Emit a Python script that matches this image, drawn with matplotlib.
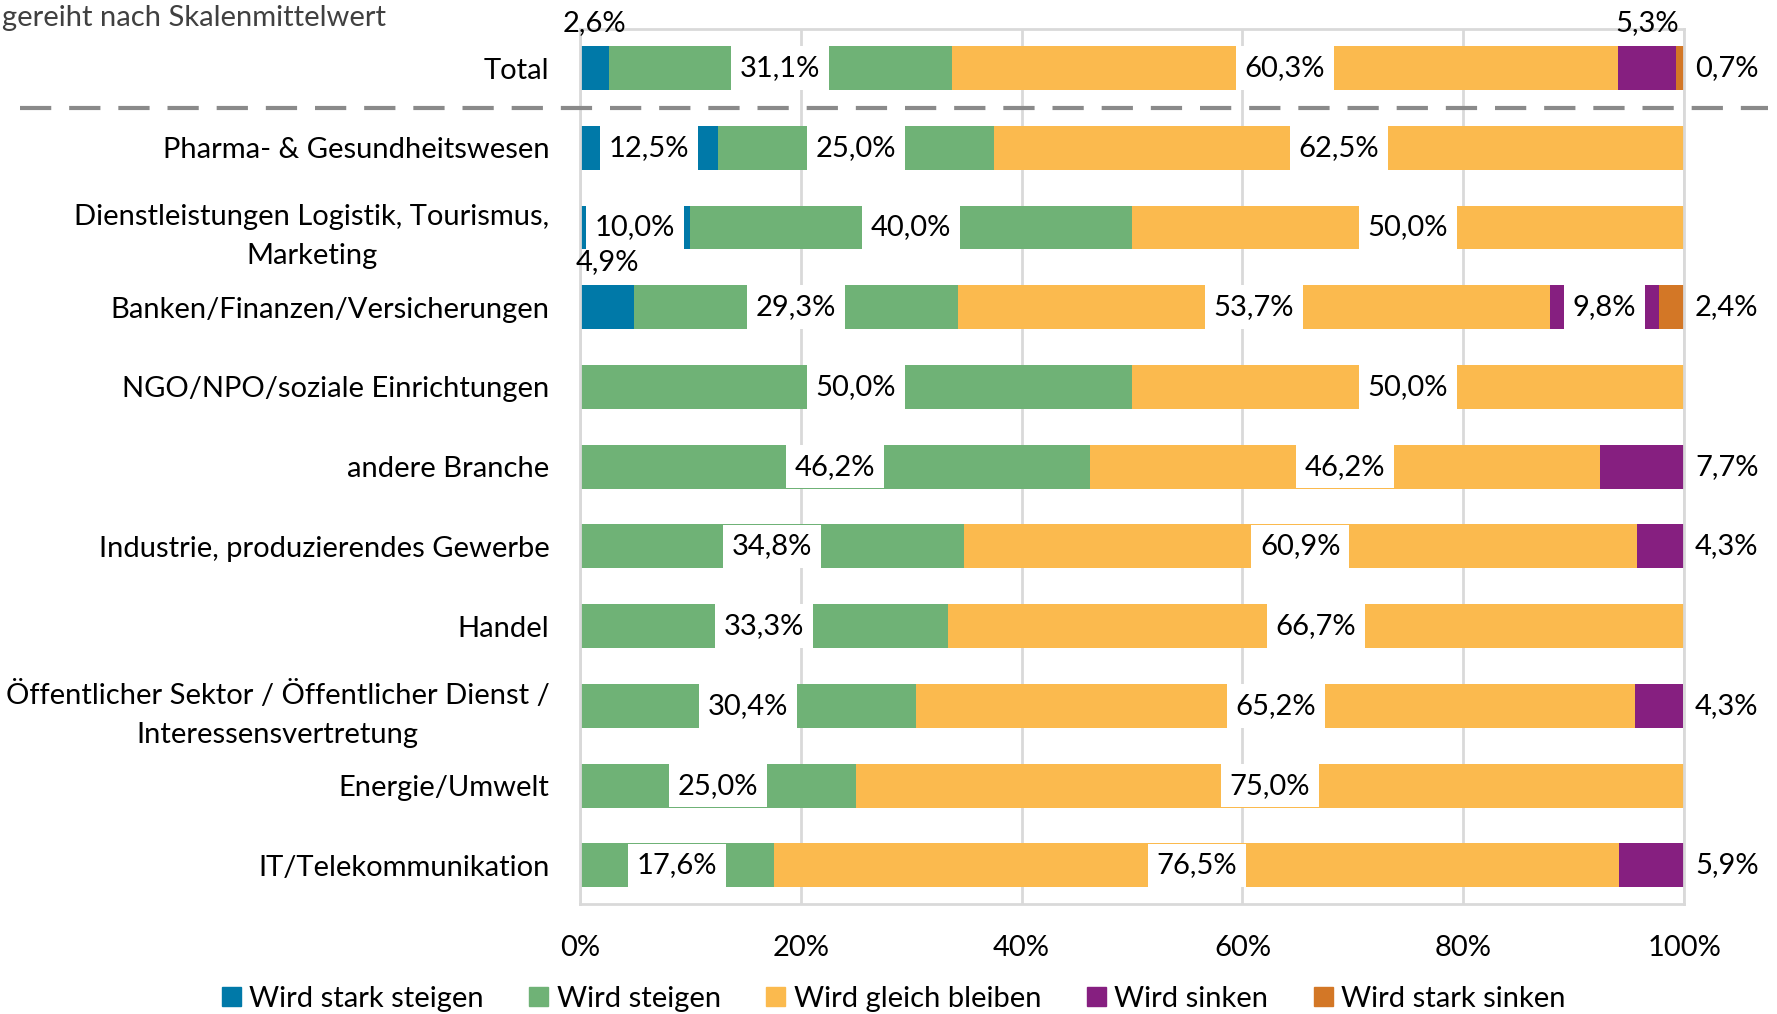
import numpy as np
import matplotlib
matplotlib.use('Agg')
import matplotlib.pyplot as plt
import matplotlib.transforms as mtransforms
from matplotlib.lines import Line2D
from matplotlib.patches import Patch

plt.rcParams['font.family'] = ['Lato', 'DejaVu Sans']

# categories (top to bottom)
branchen = ['Total',
            'Pharma- & Gesundheitswesen',
            'Dienstleistungen Logistik, Tourismus,\nMarketing',
            'Banken/Finanzen/Versicherungen',
            'NGO/NPO/soziale Einrichtungen',
            'andere Branche',
            'Industrie, produzierendes Gewerbe',
            'Handel',
            'Öffentlicher Sektor / Öffentlicher Dienst /\nInteressensvertretung',
            'Energie/Umwelt',
            'IT/Telekommunikation']

# shares in percent
stark_steigen = [2.6, 12.5, 10.0, 4.9, 0, 0, 0, 0, 0, 0, 0]
steigen       = [31.1, 25.0, 40.0, 29.3, 50.0, 46.2, 34.8, 33.3, 30.4, 25.0, 17.6]
gleich        = [60.3, 62.5, 50.0, 53.7, 50.0, 46.2, 60.9, 66.7, 65.2, 75.0, 76.5]
sinken        = [5.3, 0, 0, 9.8, 0, 7.7, 4.3, 0, 4.3, 0, 5.9]
stark_sinken  = [0.7, 0, 0, 2.4, 0, 0, 0, 0, 0, 0, 0]

series = [stark_steigen, steigen, gleich, sinken, stark_sinken]
names = ['Wird stark steigen', 'Wird steigen', 'Wird gleich bleiben',
         'Wird sinken', 'Wird stark sinken']
colors = ['#0079A8', '#6FB276', '#FBBA4E', '#861F80', '#D37726']

fig = plt.figure(figsize=(17.77, 10.14), dpi=100)
ax = fig.add_axes([0.3264, 0.1085, 0.6213, 0.8625])

y = np.arange(len(branchen))
left = np.zeros(len(branchen))
fs = 21

def fmt(v):
    return ('%.1f' % v).replace('.', ',') + '%'

for k, (vals, name, col) in enumerate(zip(series, names, colors)):
    vals = np.array(vals, dtype=float)
    ax.barh(y, vals, left=left, height=0.55, color=col, label=name, zorder=2)
    for i, v in enumerate(vals):
        if v <= 0:
            continue
        mid = left[i] + v / 2
        last = left[i] + v >= 99.5 and k >= 3
        if last:
            ax.text(101, y[i], fmt(v), ha='left', va='center', fontsize=fs, zorder=4)
        elif v < 6:
            ax.text(mid, y[i] - 0.4, fmt(v), ha='center', va='bottom', fontsize=fs, zorder=4)
        else:
            ax.text(mid, y[i], fmt(v), ha='center', va='center', fontsize=fs, zorder=4,
                    bbox=dict(boxstyle='square,pad=0.3', fc='white', ec='none'))
    left += vals

ax.set_xlim(0, 100)
ax.set_ylim(len(branchen) - 0.515, -0.485)
ax.set_yticks(y)
ax.set_yticklabels(branchen, fontsize=fs)
for lab in ax.get_yticklabels():
    lab.set_multialignment('center')
    lab.set_linespacing(1.6)
ax.set_xticks([0, 20, 40, 60, 80, 100])
ax.set_xticklabels(['0%', '20%', '40%', '60%', '80%', '100%'], fontsize=fs)
ax.tick_params(axis='y', length=0, pad=22)
ax.tick_params(axis='x', length=0, pad=22)
ax.grid(axis='x', color='#D9D9D9', linewidth=2, zorder=0)
ax.set_axisbelow(True)
for s in ax.spines.values():
    s.set_color('#D9D9D9')
    s.set_linewidth(2)

# dashed separator below Total
trans = mtransforms.blended_transform_factory(ax.transAxes, ax.transData)
ax.add_line(Line2D([-0.507, 1.076], [0.5, 0.5], transform=trans,
                   color='#8A8A8A', linestyle=(0, (7.5, 4.3)), linewidth=3,
                   clip_on=False, zorder=3))

fig.text(0.001, 0.974, 'gereiht nach Skalenmittelwert', fontsize=fs, ha='left', va='baseline',
         color='#404040')

handles = [Patch(color=c) for c in colors]
fig.legend(handles, names, loc='center', bbox_to_anchor=(0.503, 0.015), ncol=5,
           frameon=False, fontsize=fs, handlelength=0.65, handleheight=0.65,
           handletextpad=0.3, columnspacing=1.55)

fig.savefig('out.png', dpi=100)
